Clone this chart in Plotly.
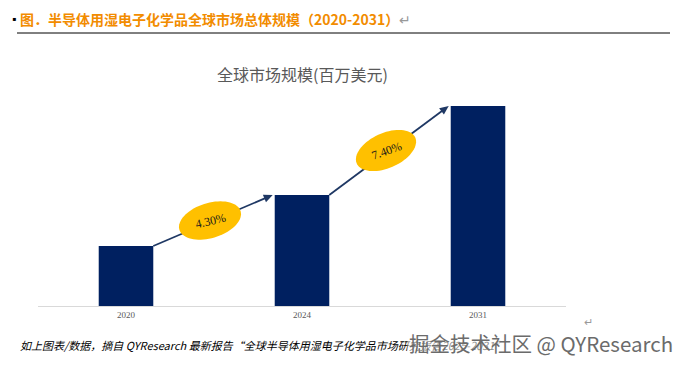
import numpy as np
import plotly.graph_objects as go

# ---- data ----
years = ["2020", "2024", "2031"]
market_size = [60, 111, 200]          # relative bar heights (no y scale shown)
cagr_labels = ["4.30%", "7.40%"]
title_text = "全球市场规模(百万美元)"
header_text = "图．半导体用湿电子化学品全球市场总体规模（2020-2031）"
footer_text = "如上图表/数据，摘自 QYResearch 最新报告“全球半导体用湿电子化学品市场研究报告2025-2031”"
watermark_text = "掘金技术社区 @ QYResearch"

# ---- layout geometry (page has an 8px body margin) ----
OFF = 8
W, H = 687 - OFF, 365 - OFF
ML, MR, MT, MB = 38 - OFF, 121, 60 - OFF, 59
PW, PH = W - ML - MR, H - MT - MB
YMAX = 246
BAR_W = 0.31
ELL_TILT = [17, 24]      # degrees
TXT_ANGLE = [-13, -20]
ARROW_COLOR = "#1F3864"
xs = list(range(len(years)))


def d2px(x, y):
    """data -> screen pixel"""
    px = ML + (x + 0.5) / len(years) * PW + OFF
    py = MT + PH - y / YMAX * PH + OFF
    return px, py


def px2paper(px, py):
    """screen pixel -> paper"""
    px -= OFF
    py -= OFF
    return (px - ML) / PW, (MT + PH - py) / PH


def poly_path(xs_px, ys_px):
    pts = [px2paper(u, v) for u, v in zip(xs_px, ys_px)]
    return "M " + " L ".join(f"{u:.4f},{v:.4f}" for u, v in pts) + " Z"


fig = go.Figure()
fig.add_trace(go.Bar(x=xs, y=market_size, width=BAR_W,
                     marker=dict(color="#002060", line=dict(width=0)),
                     hoverinfo="skip"))

shapes = []
annotations = []


def text_ann(px, py, text, font, xanchor="center", **kw):
    x, y = px2paper(px, py)
    d = dict(x=x, y=y, xref="paper", yref="paper", xanchor=xanchor, yanchor="middle",
             showarrow=False, text=text, font=font)
    d.update(kw)
    annotations.append(d)


# arrows (lines + heads) then ellipses on top
for i in range(len(years) - 1):
    x0, y0 = xs[i] + BAR_W / 2, market_size[i]
    x1, y1 = xs[i + 1] - BAR_W / 2, market_size[i + 1]
    p0 = np.array(d2px(x0, y0))
    p1 = np.array(d2px(x1, y1)) - np.array([2, 0])
    u = (p1 - p0) / np.linalg.norm(p1 - p0)
    n = np.array([-u[1], u[0]])
    head_len, head_w = 9, 4
    base = p1 - u * head_len
    a0 = px2paper(*p0)
    a1 = px2paper(*(base + u * 1))
    shapes.append(dict(type="line", xref="paper", yref="paper",
                       x0=a0[0], y0=a0[1], x1=a1[0], y1=a1[1],
                       line=dict(color=ARROW_COLOR, width=1.8), layer="above"))
    tri = [p1, base + n * head_w, base - n * head_w]
    shapes.append(dict(type="path", xref="paper", yref="paper",
                       path=poly_path([q[0] for q in tri], [q[1] for q in tri]),
                       fillcolor=ARROW_COLOR, line=dict(width=0), layer="above"))

    cx, cy = (p0[0] + p1[0]) / 2 - 3, (p0[1] + p1[1]) / 2
    ang = np.radians(ELL_TILT[i])
    a, b = 32, 17.5
    t = np.linspace(0, 2 * np.pi, 72)
    ex = cx + a * np.cos(t) * np.cos(ang) - b * np.sin(t) * np.sin(ang)
    ey = cy - (a * np.cos(t) * np.sin(ang) + b * np.sin(t) * np.cos(ang))
    shapes.append(dict(type="path", path=poly_path(ex, ey), xref="paper", yref="paper",
                       fillcolor="#FFC000", line=dict(width=0), layer="above"))
    text_ann(cx, cy, cagr_labels[i],
             dict(family="Liberation Serif", size=12, color="#1a1a1a"),
             textangle=TXT_ANGLE[i])

# header
text_ann(10, 18, "▪", dict(size=12, color="black"), xanchor="left")
text_ann(18, 19, f"<b>{header_text}</b><span style='color:#999999'>↵</span>",
         dict(family="Noto Sans CJK SC", size=14, color="#F28C00"), xanchor="left")
lx0, ly = px2paper(17, 33)
lx1, _ = px2paper(670, 33)
shapes.append(dict(type="line", xref="paper", yref="paper", x0=lx0, x1=lx1, y0=ly, y1=ly,
                   line=dict(color="black", width=1)))

# chart title
text_ann(302, 74, title_text, dict(family="Noto Sans CJK SC", size=16, color="#595959"))

# return mark
text_ann(588, 321, "↵", dict(size=11, color="#999999"))

# footer
text_ann(18, 345, f"<i>{footer_text}</i>",
         dict(family="Noto Sans CJK SC", size=11, color="black"), xanchor="left")
text_ann(675, 343, watermark_text,
         dict(family="Noto Sans CJK SC", size=20.5, color="#6b6b6b"), xanchor="right",
         bgcolor="rgba(255,255,255,0.55)")

fig.update_layout(
    width=W, height=H,
    margin=dict(l=ML, r=MR, t=MT, b=MB),
    paper_bgcolor="white", plot_bgcolor="white",
    showlegend=False,
    xaxis=dict(range=[-0.5, len(years) - 0.5], tickvals=xs, ticktext=years,
               showgrid=False, zeroline=False, showline=True, linecolor="#D9D9D9",
               linewidth=1, ticks="", ticklen=0,
               tickfont=dict(family="Liberation Serif", size=9, color="#595959")),
    yaxis=dict(range=[0, YMAX], visible=False, showgrid=False, zeroline=False),
    shapes=shapes,
    annotations=annotations,
)

fig.write_html("out.html")
